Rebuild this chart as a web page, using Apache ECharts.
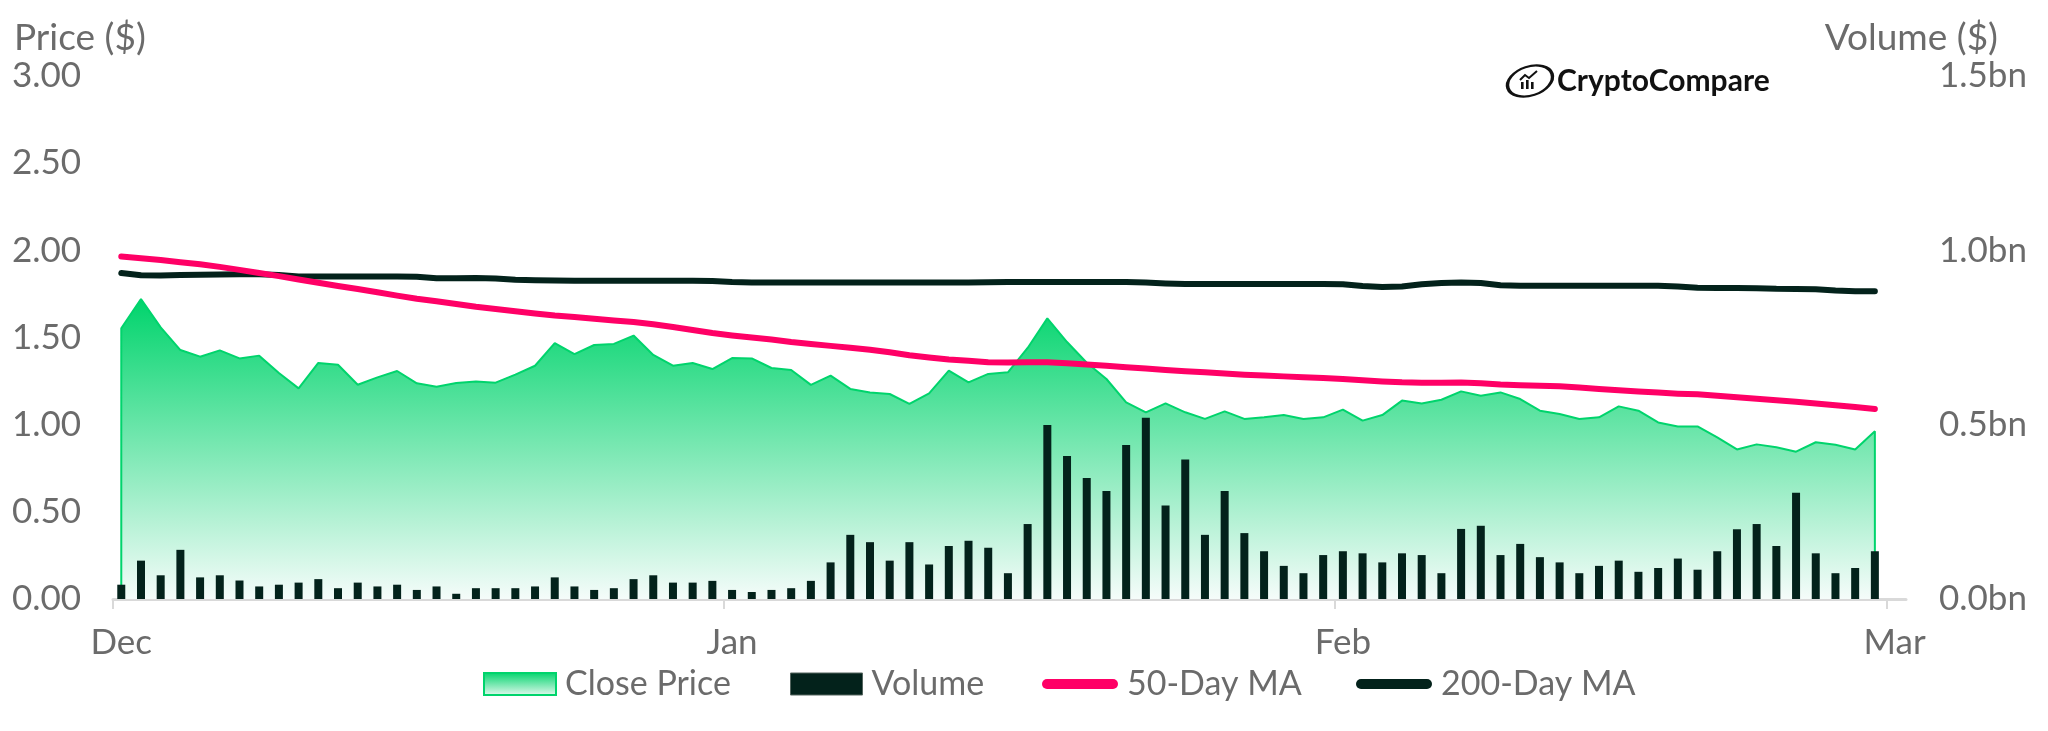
<!DOCTYPE html>
<html>
<head>
<meta charset="utf-8">
<script src="https://cdn.jsdelivr.net/npm/echarts@6/dist/echarts.min.js"></script>
<style>
html,body{margin:0;padding:0;background:#ffffff;}
#chart{width:2048px;height:731px;}
</style>
</head>
<body>
<div id="chart"></div>
<script>
// ---- Data (day index 0 = Dec 1, daily closes through Feb 28) ----
const monthTicks  = [0, 31, 62, 90];
const monthLabels = ['Dec', 'Jan', 'Feb', 'Mar'];
const POINT_OFFSET = 0.42; // data points (and month labels) sit slightly after midnight ticks

const closePrice = [
  1.553, 1.721, 1.558, 1.428, 1.390, 1.426, 1.380, 1.396, 1.296, 1.208,
  1.354, 1.344, 1.229, 1.271, 1.308, 1.237, 1.218, 1.239, 1.247, 1.241,
  1.287, 1.338, 1.468, 1.405, 1.457, 1.463, 1.511, 1.400, 1.338, 1.354,
  1.319, 1.382, 1.380, 1.325, 1.314, 1.228, 1.281, 1.205, 1.185, 1.176,
  1.119, 1.180, 1.310, 1.243, 1.291, 1.300, 1.440, 1.610, 1.474, 1.355,
  1.262, 1.128, 1.071, 1.122, 1.071, 1.033, 1.076, 1.033, 1.042, 1.055,
  1.033, 1.042, 1.086, 1.023, 1.055, 1.138, 1.122, 1.143, 1.191, 1.166,
  1.185, 1.147, 1.080, 1.061, 1.033, 1.042, 1.105, 1.080, 1.013, 0.990,
  0.990, 0.927, 0.858, 0.887, 0.870, 0.845, 0.899, 0.885, 0.858, 0.962
];

const volumeBn = [
  0.041, 0.110, 0.068, 0.141, 0.062, 0.068, 0.053, 0.036, 0.041, 0.047,
  0.057, 0.031, 0.047, 0.036, 0.041, 0.026, 0.036, 0.015, 0.031, 0.031,
  0.031, 0.036, 0.062, 0.036, 0.026, 0.031, 0.057, 0.068, 0.047, 0.047,
  0.052, 0.026, 0.020, 0.026, 0.031, 0.052, 0.105, 0.184, 0.163, 0.110,
  0.163, 0.099, 0.152, 0.167, 0.147, 0.074, 0.215, 0.499, 0.410, 0.347,
  0.310, 0.442, 0.520, 0.268, 0.400, 0.184, 0.310, 0.189, 0.137, 0.095,
  0.074, 0.126, 0.137, 0.131, 0.105, 0.131, 0.126, 0.074, 0.201, 0.210,
  0.126, 0.158, 0.120, 0.105, 0.074, 0.095, 0.110, 0.078, 0.089, 0.116,
  0.084, 0.137, 0.200, 0.215, 0.152, 0.305, 0.131, 0.074, 0.089, 0.137
];

const ma50 = [
  1.964, 1.955, 1.944, 1.932, 1.920, 1.905, 1.888, 1.870, 1.852, 1.833,
  1.814, 1.795, 1.778, 1.760, 1.740, 1.722, 1.708, 1.692, 1.676, 1.664,
  1.650, 1.638, 1.626, 1.617, 1.607, 1.598, 1.589, 1.576, 1.560, 1.543,
  1.526, 1.512, 1.500, 1.488, 1.474, 1.463, 1.452, 1.441, 1.430, 1.415,
  1.398, 1.385, 1.374, 1.366, 1.358, 1.357, 1.358, 1.358, 1.352, 1.345,
  1.338, 1.330, 1.322, 1.314, 1.306, 1.300, 1.294, 1.287, 1.282, 1.277,
  1.272, 1.267, 1.262, 1.255, 1.248, 1.243, 1.241, 1.240, 1.242, 1.238,
  1.230, 1.226, 1.223, 1.220, 1.213, 1.205, 1.197, 1.190, 1.184, 1.178,
  1.174, 1.166, 1.157, 1.148, 1.140, 1.132, 1.121, 1.111, 1.101, 1.090
];

const ma200 = [
  1.870, 1.857, 1.856, 1.858, 1.860, 1.862, 1.863, 1.863, 1.858, 1.850,
  1.850, 1.850, 1.850, 1.850, 1.850, 1.848, 1.840, 1.840, 1.841, 1.839,
  1.831, 1.828, 1.827, 1.826, 1.826, 1.826, 1.826, 1.826, 1.826, 1.826,
  1.824, 1.818, 1.816, 1.816, 1.816, 1.816, 1.816, 1.816, 1.816, 1.816,
  1.816, 1.816, 1.816, 1.816, 1.817, 1.818, 1.818, 1.818, 1.818, 1.818,
  1.818, 1.818, 1.815, 1.810, 1.807, 1.807, 1.807, 1.807, 1.807, 1.807,
  1.807, 1.807, 1.806, 1.795, 1.790, 1.792, 1.805, 1.812, 1.815, 1.812,
  1.800, 1.797, 1.797, 1.797, 1.797, 1.797, 1.797, 1.797, 1.797, 1.792,
  1.785, 1.784, 1.784, 1.783, 1.779, 1.778, 1.777, 1.770, 1.766, 1.765
];

// ---- Styling ----
const FONT  = 'Lato, "Noto Sans", sans-serif';
const GRAY  = '#6b6b6b';
const GREEN = '#00D46C';
const DARK  = '#03221B';
const PINK  = '#FF0066';

const xOf = i => i + POINT_OFFSET;
const last = closePrice.length - 1;
const priceSeries = [[xOf(0), 0]]
  .concat(closePrice.map((v, i) => [xOf(i), v]))
  .concat([[xOf(last), 0]]);
const volSeries  = volumeBn.map((v, i) => [xOf(i), v]);
const ma50Series = ma50.map((v, i) => [xOf(i), v]);
const ma200Series = ma200.map((v, i) => [xOf(i), v]);
const labelValues = monthTicks.map(xOf);

const chart = echarts.init(document.getElementById('chart'), null, {renderer: 'canvas'});

const areaGrad = new echarts.graphic.LinearGradient(0, 0, 0, 1, [
  {offset: 0, color: '#00D46C'},
  {offset: 1, color: '#F5FCFA'}
]);
const legendGrad = new echarts.graphic.LinearGradient(0, 0, 0, 1, [
  {offset: 0, color: '#00D46C'},
  {offset: 1, color: '#E6F9F0'}
]);
const capsule = 'path://M5,0 L71,0 A5,5 0 1,1 71,10 L5,10 A5,5 0 1,1 5,0 Z';
const legTxt = {color: GRAY, fontSize: 34, fontFamily: FONT, padding: [0, 0, 0, 4]};
const LEG_TOP = 662;

const option = {
  animation: false,
  backgroundColor: '#ffffff',
  grid: {left: 113, right: 142, top: 76, bottom: 132, containLabel: false},
  xAxis: {
    type: 'value',
    min: 0,
    max: 91,
    axisLine: {show: true, lineStyle: {color: '#D9D9D9', width: 3}},
    axisTick: {show: true, customValues: monthTicks, length: 10, lineStyle: {color: '#D9D9D9', width: 2}},
    splitLine: {show: false},
    axisLabel: {
      customValues: labelValues,
      formatter: v => { const k = labelValues.indexOf(v); return k >= 0 ? monthLabels[k] : ''; },
      color: GRAY, fontSize: 35, fontFamily: FONT, margin: 26
    }
  },
  yAxis: [
    {
      type: 'value', min: 0, max: 3, interval: 0.5,
      axisLine: {show: false}, axisTick: {show: false}, splitLine: {show: false},
      axisLabel: {align: 'left', margin: 101, color: GRAY, fontSize: 35, fontFamily: FONT,
                  formatter: v => v.toFixed(2)}
    },
    {
      type: 'value', min: 0, max: 1.5, interval: 0.5, position: 'right',
      axisLine: {show: false}, axisTick: {show: false}, splitLine: {show: false},
      axisLabel: {align: 'left', margin: 33, color: GRAY, fontSize: 35, fontFamily: FONT,
                  formatter: v => v.toFixed(1) + 'bn'}
    }
  ],
  legend: [
    {data: [{name: 'Close Price', icon: 'rect', itemStyle: {color: legendGrad, borderColor: GREEN, borderWidth: 2}}],
     left: 478, top: LEG_TOP, itemWidth: 72, itemHeight: 22, textStyle: legTxt, selectedMode: false},
    {data: [{name: 'Volume', icon: 'rect', itemStyle: {color: DARK, borderColor: '#55655f', borderWidth: 1}}],
     left: 785, top: LEG_TOP, itemWidth: 72, itemHeight: 22, textStyle: legTxt, selectedMode: false},
    {data: [{name: '50-Day MA', icon: capsule, itemStyle: {color: PINK, borderWidth: 0}}],
     left: 1037, top: LEG_TOP, itemWidth: 76, itemHeight: 10, textStyle: legTxt, selectedMode: false},
    {data: [{name: '200-Day MA', icon: capsule, itemStyle: {color: DARK, borderWidth: 0}}],
     left: 1351, top: LEG_TOP, itemWidth: 76, itemHeight: 10, textStyle: legTxt, selectedMode: false}
  ],
  graphic: [
    {type: 'text', x: 14, y: 38,
     style: {text: 'Price ($)', fill: GRAY, font: '37px ' + FONT,
             align: 'left', verticalAlign: 'middle', textAlign: 'left', textVerticalAlign: 'middle'}},
    {type: 'text', x: 1998, y: 38,
     style: {text: 'Volume ($)', fill: GRAY, font: '37px ' + FONT,
             align: 'right', verticalAlign: 'middle', textAlign: 'right', textVerticalAlign: 'middle'}},
    {type: 'group', children: [
      {type: 'circle', x: 1530, y: 81, scaleX: 1.6, rotation: 0.32,
       shape: {cx: 0, cy: 0, r: 14.5},
       style: {fill: 'none', stroke: '#111111', lineWidth: 2.8, strokeNoScale: true}},
      {type: 'rect', shape: {x: 1521, y: 82, width: 2.6, height: 7}, style: {fill: '#111111'}},
      {type: 'rect', shape: {x: 1526, y: 80, width: 2.6, height: 9}, style: {fill: '#111111'}},
      {type: 'rect', shape: {x: 1531, y: 82, width: 2.6, height: 7}, style: {fill: '#111111'}},
      {type: 'polyline', shape: {points: [[1520, 80], [1525, 75], [1529, 78], [1537, 71]]},
       style: {fill: 'none', stroke: '#111111', lineWidth: 2}},
      {type: 'text', x: 1557, y: 81,
       style: {text: 'CryptoCompare', fill: '#111111', font: 'bold 30px ' + FONT,
               align: 'left', verticalAlign: 'middle', textAlign: 'left', textVerticalAlign: 'middle'}}
    ]}
  ],
  series: [
    {
      name: 'Close Price', type: 'line', yAxisIndex: 0, data: priceSeries,
      showSymbol: false, symbol: 'none', silent: true, z: 1,
      lineStyle: {color: GREEN, width: 2},
      itemStyle: {color: GREEN},
      areaStyle: {color: areaGrad, opacity: 1}
    },
    {
      name: 'Volume', type: 'bar', yAxisIndex: 1, data: volSeries,
      barWidth: 8, silent: true, z: 2,
      itemStyle: {color: DARK}
    },
    {
      name: '200-Day MA', type: 'line', yAxisIndex: 0, data: ma200Series,
      showSymbol: false, symbol: 'none', silent: true, z: 3,
      lineStyle: {color: DARK, width: 6, cap: 'round', join: 'round'},
      itemStyle: {color: DARK}
    },
    {
      name: '50-Day MA', type: 'line', yAxisIndex: 0, data: ma50Series,
      showSymbol: false, symbol: 'none', silent: true, z: 4,
      lineStyle: {color: PINK, width: 6, cap: 'round', join: 'round'},
      itemStyle: {color: PINK}
    }
  ]
};
chart.setOption(option);
</script>
</body>
</html>
